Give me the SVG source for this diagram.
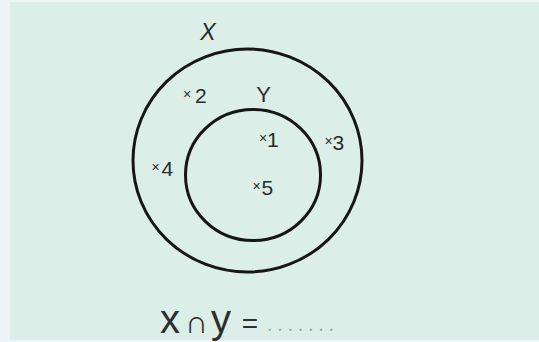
<svg xmlns="http://www.w3.org/2000/svg" width="539" height="342" viewBox="0 0 539 342">
<style>
.set{fill:none;stroke:#161616;stroke-width:3}
.lbl{font-family:"Liberation Sans",Arial,sans-serif;fill:#2b2b2b}
.num{font-family:"Liberation Sans",Arial,sans-serif;font-size:21px;fill:#2b2b2b}
.mk{font-family:"Liberation Sans",Arial,sans-serif;font-size:14px;fill:#2b2b2b}
.eq{font-family:"Liberation Sans",Arial,sans-serif;fill:#2e2e2e}
</style>
<rect x="0" y="0" width="539" height="342" fill="#eef3f6"/>
<rect x="10" y="2" width="529" height="338" fill="#dceee8"/>
<g id="set-X">
<ellipse class="set" cx="247.5" cy="160.5" rx="114.5" ry="111.5"/>
<text class="lbl" x="208" y="40" font-size="23" font-style="italic" text-anchor="middle">X</text>
</g>
<g id="set-Y">
<ellipse class="set" cx="253" cy="175" rx="67.5" ry="65.5"/>
<text class="lbl" x="263.5" y="101.5" font-size="22" text-anchor="middle">Y</text>
</g>
<g id="el-2"><text class="mk" x="183" y="98.5">×</text><text class="num" x="195" y="102.5">2</text></g>
<g id="el-1"><text class="mk" x="259" y="142.5">×</text><text class="num" x="267" y="146.5">1</text></g>
<g id="el-3"><text class="mk" x="324.5" y="146">×</text><text class="num" x="332.5" y="150">3</text></g>
<g id="el-4"><text class="mk" x="151.5" y="172">×</text><text class="num" x="161.5" y="175.5">4</text></g>
<g id="el-5"><text class="mk" x="252.5" y="191">×</text><text class="num" x="261.5" y="195">5</text></g>
<g id="equation">
<text class="eq" x="170" y="333" font-size="40" text-anchor="middle">x</text>
<text class="eq" x="196.5" y="333" font-size="32" font-family="DejaVu Sans" text-anchor="middle">∩</text>
<text class="eq" x="221" y="333" font-size="40" text-anchor="middle">y</text>
<text class="eq" x="250" y="333" font-size="28" text-anchor="middle">=</text>
<text x="267" y="331" font-family="Liberation Sans,Arial,sans-serif" font-size="20" letter-spacing="4.7" fill="#9aa5a1">.......</text>
</g>
</svg>
